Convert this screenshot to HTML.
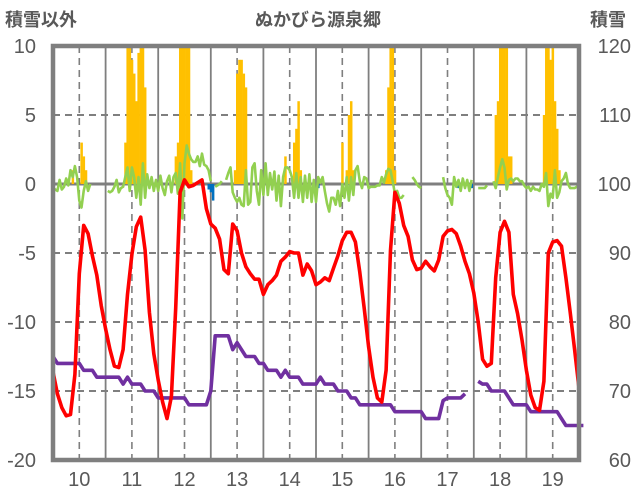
<!DOCTYPE html>
<html><head><meta charset="utf-8">
<style>
html,body{margin:0;padding:0;background:#fff;}
svg{display:block;font-family:"Liberation Sans","Noto Sans CJK JP",sans-serif;}
</style></head>
<body>
<svg id="chart" width="636" height="501" viewBox="0 0 636 501" xmlns="http://www.w3.org/2000/svg">
<text x="5" y="26" font-size="18" font-weight="bold" fill="#595959">積雪以外</text>
<text x="318" y="26" font-size="18" font-weight="bold" fill="#595959" text-anchor="middle">ぬかびら源泉郷</text>
<text x="590" y="26" font-size="18" font-weight="bold" fill="#595959">積雪</text>
<g id="grid"></g><g id="bars"></g><g id="lines"></g><g id="frame"></g><g id="labels"></g>
</svg>
<script>
const dayTicks=[10,11,12,13,14,15,16,17,18,19];
const leftTicks=[10,5,0,-5,-10,-15,-20];
const rightTicks=[120,110,100,90,80,70,60];
const startDay=9.5, endDay=19.5;
const temp2h=[-13.6,-15.2,-16.2,-16.8,-16.7,-13.8,-6.5,-3.0,-3.6,-5.2,-6.6,-8.8,-10.5,-12,-13.2,-13.3,-12,-8,-5.1,-3.1,-2.4,-4.8,-9.3,-12.3,-14.2,-15.8,-17,-15.4,-9,-0.6,0.3,-0.2,-0.1,0.1,0.3,-1.8,-2.9,-3.2,-4,-6.2,-6.5,-2.9,-3.4,-5,-6,-6.5,-6.9,-6.9,-8,-7.3,-7,-6.6,-5.6,-5.3,-4.9,-5,-5,-6.6,-5.8,-6.3,-7.3,-7.1,-6.8,-7,-6.1,-5.2,-4.1,-3.5,-3.5,-4.2,-6.4,-9,-11.8,-14,-15.5,-15.8,-13.5,-4.8,-0.6,-1.4,-3,-3.8,-5.5,-6.2,-6.1,-5.6,-6,-6.3,-5.5,-3.8,-3.4,-3.3,-3.6,-4.5,-5.6,-6.5,-7.9,-10,-12.7,-13.2,-13,-6.8,-3.5,-2.7,-3.5,-8,-9.4,-11.3,-13.5,-15.3,-16.2,-16.4,-14.3,-5,-4.2,-4.1,-4.5,-6.8,-9.3,-12,-14.8];
const snowDepth2h=[75,74,74,74,74,74,74,73,73,73,72,72,72,72,72,72,71,72,71,71,71,70,70,70,69,69,69,69,69,69,69,68,68,68,68,68,70,78,78,78,78,76,77,76,75,75,75,74,74,73,73,73,72,73,72,72,72,71,71,71,71,72,71,71,71,70,70,70,69,69,68,68,68,68,68,68,68,68,67,67,67,67,67,67,67,66,66,66,66,68.6,69,69,69,69,69.6,null,null,71.4,71,71,70,70,70,70,69,68,68,68,68,67,67,67,67,67,67,67,66,65,65,65,65,65];
const wind1h=[-0.3,-0.4,-0.5,0.3,-0.4,-0.2,0.4,-0.1,1,0.5,1.3,0.5,-1.2,-1.7,-0.5,0.2,-0.5,0,null,null,null,null,null,null,null,-0.5,-0.6,-0.5,-0.2,0.3,-0.6,-0.3,-0.2,0.5,1.2,-0.5,1.2,0.5,-1,0.5,-1.5,1.5,-1,0.7,-0.3,0.5,-0.5,0.3,-0.5,0.6,-0.3,-0.8,0.2,0.6,-0.6,0.5,0.8,-0.7,1.5,-2.5,1.5,2.8,2.2,1.8,1.6,1.6,2,1.3,2.2,1.4,1.3,1.0,0.2,null,-0.2,-0.1,0,0.2,null,0.3,0.8,1.2,-0.6,-1,-1.3,-1.0,-1.5,-1.6,1.0,-1.5,-1.3,1.2,1.5,-0.5,-1.5,1,-0.8,1.5,-0.8,0.8,-0.4,0.9,-1.2,0.6,-1.6,0.5,1.2,1.2,1,0.5,-1,0.8,-1.0,0.5,-1.3,0.6,-1.0,0.7,-1.3,0.3,-1.3,0.5,0.1,0.5,-0.5,-1.4,-2,-1.0,-1.0,-1.5,-0.5,-1.6,0,-1.0,0.5,-1.2,0.5,-0.8,1.0,1.3,0.2,-0.3,0.5,0.4,-0.3,-0.2,-0.2,-0.2,-0.1,-0.1,0.5,0.1,0.7,1.1,1,0.2,-0.7,-0.5,-1.0,-1.0,-0.8,null,null,null,0.5,0.3,0,-0.2,-0.3,null,null,null,null,null,null,null,null,null,0.5,-0.3,-0.8,-1.0,-1.5,0.5,-0.2,0.3,-0.5,0.4,-0.3,0.3,-0.5,0.3,null,null,-0.3,-0.3,-0.3,-0.3,-0.1,null,null,0.2,-0.3,0.5,1.2,1.8,1.2,-0.4,0.3,0.4,0.2,0.4,0.4,0.2,0.2,-0.1,-0.3,-0.2,-0.5,-0.2,-0.4,-0.4,-0.5,0,-0.2,0.8,-1.6,-0.7,-1,1,-1.0,-0.6,0.2,0.4,0.8,0,-0.3,-0.3,-0.3,-0.2,-0.2];
const snowfallHour=[9,13,14,15,33,34,35,36,37,38,39,40,41,42,56,57,58,59,60,61,62,63,83,84,85,86,87,88,106,110,111,112,113,132,134,135,136,137,152,153,154,155,156,202,203,204,205,206,207,208,209,224,225,226,227,228,229,230,231];
const snowfallValue=[1,3,2,1,3,10,10,9,8,6,9.5,10,10,7,2,3,10,10,10,10,10,1,1,8,9,9,8,7,2,3,4,6,1,3,1,5,6,1,1,7,10,10,1,5,6,10,10,10,10,2,2,5,10,10,9,10,6,4,1];
const meltHour=[71,72,73,121,185,191];
const meltValue=[-0.4,-0.6,-1.2,-0.3,-0.3,-0.3];

const X0=53,X1=579,YT=46,YB=460;
const xScale=d=>X0+(d-startDay)/(endDay-startDay)*(X1-X0);
const yL=v=>YB-(v+20)/30*(YB-YT);
const yR=v=>YB-(v-60)/60*(YB-YT);
const NS='http://www.w3.org/2000/svg';
function mk(parent,tag,attrs){const e=document.createElementNS(NS,tag);for(const k in attrs)e.setAttribute(k,attrs[k]);document.getElementById(parent).appendChild(e);return e;}

// grid
leftTicks.forEach(v=>{
  if(v===10||v===-20)return;
  const g=mk('grid','line',{x1:X0,x2:X1,y1:yL(v),y2:yL(v),stroke:'#7f7f7f','stroke-width':v===0?3:2,'stroke-dasharray':v===0?'none':'7,5'});
  
  
});
dayTicks.forEach(d=>{
  const g=mk('grid','line',{x1:xScale(d),x2:xScale(d),y1:YT,y2:YB,stroke:'#7f7f7f','stroke-width':1.6,'stroke-dasharray':'7,5'});
  
  
  if(d<19){const s=mk('grid','line',{x1:xScale(d+0.5),x2:xScale(d+0.5),y1:YT,y2:YB,stroke:'#7f7f7f','stroke-width':1.8});
  
  }
});
// bars
const bw=(X1-X0)/240;
snowfallHour.forEach((h,i)=>{
  const x=xScale(startDay+h/24), v=Math.min(snowfallValue[i],10);
  const r=mk('bars','rect',{x:x-bw/2,y:yL(v),width:bw+0.3,height:yL(0)-yL(v),fill:'#FFC000'});
  
  
});
meltHour.forEach((h,i)=>{
  const x=xScale(startDay+h/24);
  const r=mk('bars','rect',{x:x-bw/2,y:yL(0),width:bw+0.3,height:yL(meltValue[i])-yL(0),fill:'#0070C0'});
  
  
});
function pathFrom(arr,stepH,yf){
  let d='',pen=false;
  arr.forEach((v,i)=>{
    if(v===null){pen=false;return;}
    const x=xScale(startDay+i*stepH/24), y=yf(v);
    d+=(pen?'L':'M')+x.toFixed(1)+' '+y.toFixed(1);pen=true;
  });
  return d;
}
const gl=mk('lines','path',{d:pathFrom(wind1h,1,yL),fill:'none',stroke:'#92D050','stroke-width':2.6,'stroke-linejoin':'round'});


const pl=mk('lines','path',{d:pathFrom(snowDepth2h,2,yR),fill:'none',stroke:'#7030A0','stroke-width':3.6,'stroke-linejoin':'round'});


const rl=mk('lines','path',{d:pathFrom(temp2h,2,yL),fill:'none',stroke:'#FF0000','stroke-width':3.6,'stroke-linejoin':'round'});


// frame
const fr=mk('frame','rect',{x:X0,y:YT,width:X1-X0,height:YB-YT,fill:'none',stroke:'#7f7f7f','stroke-width':4.5});


// labels
leftTicks.forEach(v=>{
  const t=mk('labels','text',{x:36,y:yL(v)+7,'font-size':20,fill:'#595959','text-anchor':'end'});
  t.textContent=v;
  
  
});
rightTicks.forEach(v=>{
  const t=mk('labels','text',{x:631,y:yR(v)+7,'font-size':20,fill:'#595959','text-anchor':'end'});
  t.textContent=v;
  
  
});
dayTicks.forEach(d=>{
  const t=mk('labels','text',{x:xScale(d),y:486,'font-size':20,fill:'#595959','text-anchor':'middle'});
  t.textContent=d;
  
  
});
</script>
</body></html>
